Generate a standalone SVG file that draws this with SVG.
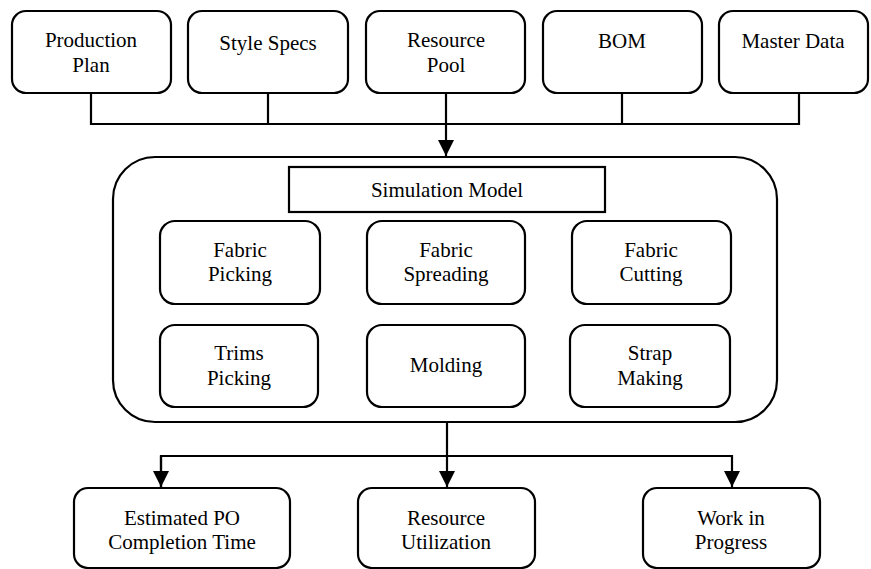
<svg xmlns="http://www.w3.org/2000/svg" width="871" height="569" viewBox="0 0 871 569">
<style>
.box{fill:#fff;stroke:#000;stroke-width:2.2}
.ln{fill:none;stroke:#000;stroke-width:2.2}
.t{font-family:'Liberation Serif','Times New Roman',serif;font-size:21px;fill:#000;text-anchor:middle}
</style>
<defs>
<marker id="ah" viewBox="0 0 16 16" refX="16" refY="8" markerWidth="16" markerHeight="16" markerUnits="userSpaceOnUse" orient="auto">
<path d="M0,0 L16,8 L0,16 Z" fill="#000"/>
</marker>
</defs>
<g id="connectors">
<path class="ln" d="M91,93 V124 H799 V93 M268,93 V124 M622,93 V124"/>
<path class="ln" d="M446,93 V156" marker-end="url(#ah)"/>
<path class="ln" d="M447,422 V487" marker-end="url(#ah)"/>
<path class="ln" d="M161,487 V456 H732 V487" marker-end="url(#ah)"/>
<path class="ln" d="M161,456 V487" marker-end="url(#ah)"/>
</g>
<g class="t">
<g id="production-plan"><rect class="box" x="12" y="11" width="159" height="82" rx="14"/><text x="91" y="47">Production</text><text x="91" y="72">Plan</text></g>
<g id="style-specs"><rect class="box" x="188" y="11" width="160" height="82" rx="14"/><text x="268" y="50">Style Specs</text></g>
<g id="resource-pool"><rect class="box" x="366" y="11" width="159" height="82" rx="14"/><text x="446" y="47">Resource</text><text x="446" y="72">Pool</text></g>
<g id="bom"><rect class="box" x="543" y="11" width="159" height="82" rx="14"/><text x="622" y="48">BOM</text></g>
<g id="master-data"><rect class="box" x="719" y="11" width="149" height="82" rx="14"/><text x="793" y="48">Master Data</text></g>
<g id="simulation-container"><rect class="box" x="113" y="157" width="664" height="265" rx="42"/></g>
<g id="simulation-model"><rect class="box" x="289" y="167" width="316" height="45"/><text x="447" y="197">Simulation Model</text></g>
<g id="fabric-picking"><rect class="box" x="160" y="221" width="160" height="83" rx="15"/><text x="240" y="257">Fabric</text><text x="240" y="281">Picking</text></g>
<g id="fabric-spreading"><rect class="box" x="367" y="221" width="158" height="83" rx="15"/><text x="446" y="257">Fabric</text><text x="446" y="281">Spreading</text></g>
<g id="fabric-cutting"><rect class="box" x="572" y="221" width="159" height="83" rx="15"/><text x="651" y="257">Fabric</text><text x="651" y="281">Cutting</text></g>
<g id="trims-picking"><rect class="box" x="160" y="325" width="158" height="82" rx="15"/><text x="239" y="360">Trims</text><text x="239" y="385">Picking</text></g>
<g id="molding"><rect class="box" x="367" y="325" width="158" height="82" rx="15"/><text x="446" y="372">Molding</text></g>
<g id="strap-making"><rect class="box" x="570" y="325" width="160" height="82" rx="15"/><text x="650" y="360">Strap</text><text x="650" y="385">Making</text></g>
<g id="estimated-po"><rect class="box" x="74" y="488" width="216" height="80" rx="14"/><text x="182" y="525">Estimated PO</text><text x="182" y="549">Completion Time</text></g>
<g id="resource-utilization"><rect class="box" x="358" y="488" width="177" height="80" rx="14"/><text x="446" y="525">Resource</text><text x="446" y="549">Utilization</text></g>
<g id="work-in-progress"><rect class="box" x="643" y="488" width="177" height="80" rx="14"/><text x="731" y="525">Work in</text><text x="731" y="549">Progress</text></g>
</g>
</svg>
